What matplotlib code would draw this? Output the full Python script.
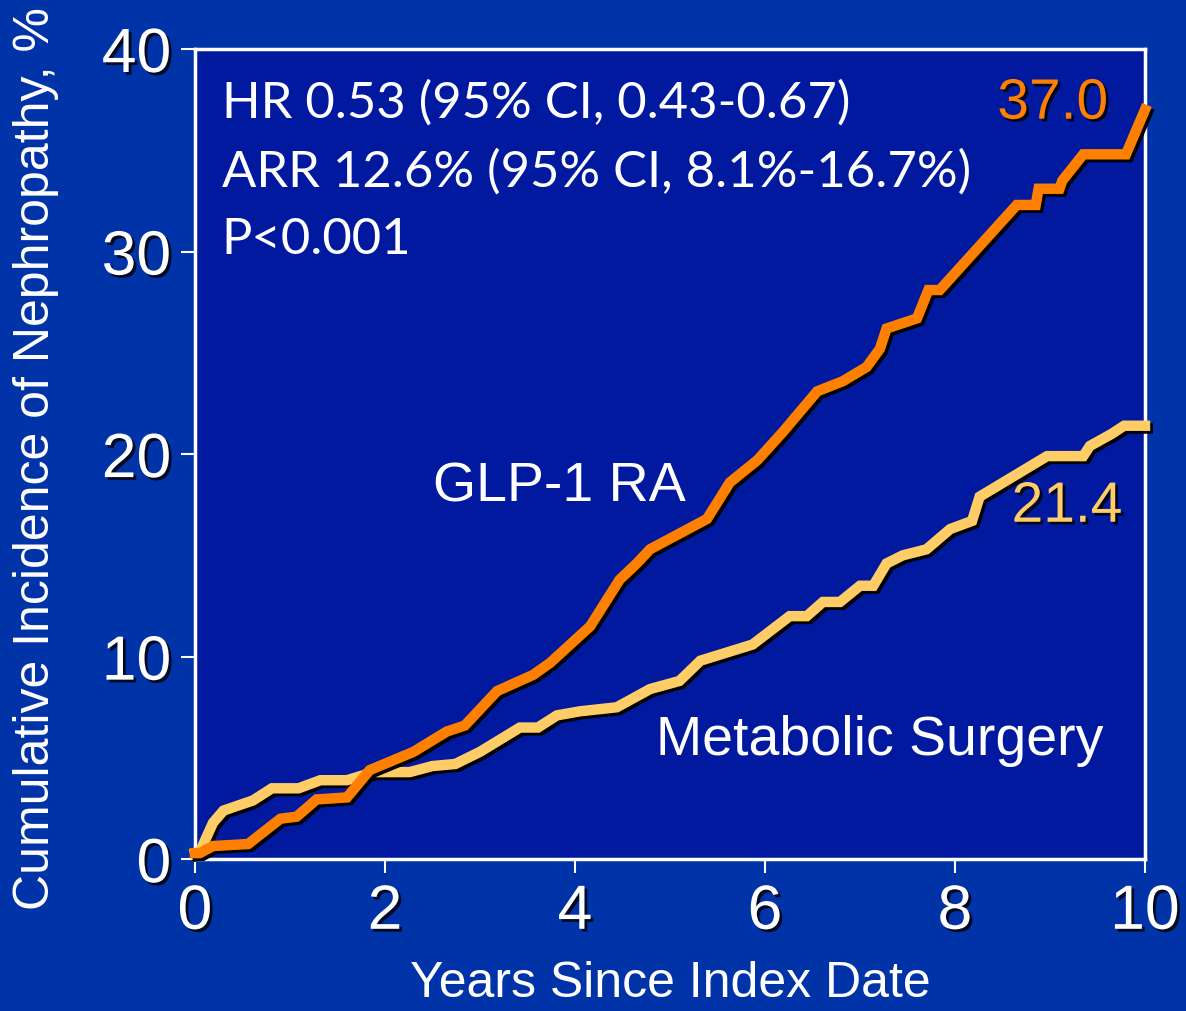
import matplotlib
matplotlib.use("Agg")
import matplotlib.pyplot as plt
import matplotlib.patheffects as pe

# ── data ────────────────────────────────────────────────────────────────────
glp_t = [0.0, 0.05, 0.19, 0.56, 0.9, 1.07, 1.28, 1.6, 1.84, 2.3, 2.65, 2.84,
         3.18, 3.56, 3.74, 4.16, 4.47, 4.65, 4.79, 5.39, 5.63, 5.92, 6.19,
         6.55, 6.82, 7.07, 7.21, 7.28, 7.6, 7.72, 7.84, 8.65, 8.85, 8.88,
         9.1, 9.13, 9.35, 9.8, 10.0]
glp_v = [0.3, 0.3, 0.65, 0.75, 2.0, 2.1, 2.95, 3.05, 4.4, 5.3, 6.3, 6.6,
         8.3, 9.1, 9.7, 11.5, 13.8, 14.6, 15.3, 16.8, 18.6, 19.7, 21.1,
         23.1, 23.6, 24.3, 25.2, 26.2, 26.7, 28.1, 28.1, 32.3, 32.3, 33.1,
         33.1, 33.5, 34.8, 34.8, 37.0]

ms_t = [0.0, 0.05, 0.19, 0.3, 0.61, 0.81, 1.09, 1.32, 1.6, 1.88, 2.26, 2.5,
        2.74, 3.0, 3.42, 3.61, 3.81, 4.05, 4.44, 4.79, 5.1, 5.32, 5.87,
        6.26, 6.44, 6.61, 6.79, 7.0, 7.14, 7.28, 7.45, 7.7, 7.95, 8.18,
        8.26, 8.97, 9.35, 9.42, 9.65, 9.78, 10.0]
ms_v = [0.3, 0.35, 1.8, 2.4, 2.9, 3.5, 3.5, 3.9, 3.9, 4.3, 4.3, 4.6,
        4.7, 5.3, 6.5, 6.5, 7.1, 7.3, 7.5, 8.4, 8.8, 9.8, 10.6,
        12.0, 12.0, 12.7, 12.7, 13.5, 13.5, 14.6, 15.0, 15.3, 16.3, 16.7,
        17.9, 19.9, 19.9, 20.4, 21.0, 21.4, 21.4]

stats_lines = ["HR 0.53 (95% CI, 0.43-0.67)",
               "ARR 12.6% (95% CI, 8.1%-16.7%)",
               "P<0.001"]
x_ticks = [0, 2, 4, 6, 8, 10]
y_ticks = [0, 10, 20, 30, 40]

OUTER = "#0033A8"
INNER = "#00199E"
ORANGE = "#FF8000"
YELLOW = "#FFCC66"

fig = plt.figure(figsize=(11.86, 10.12), dpi=100)
fig.patch.set_facecolor(OUTER)
ax = fig.add_axes([0.1644, 0.150, 0.801, 0.8006])
ax.set_facecolor(INNER)

shadow = [pe.SimpleLineShadow(offset=(2, -2), shadow_color="black", alpha=1.0),
          pe.Normal()]
ax.plot(ms_t, ms_v, color=YELLOW, lw=7.5, solid_joinstyle="miter",
        path_effects=shadow, zorder=3, clip_on=False)
ax.plot(glp_t, glp_v, color=ORANGE, lw=7.5, solid_joinstyle="miter",
        path_effects=shadow, zorder=4, clip_on=False)

ax.set_xlim(0, 10)
ax.set_ylim(0, 40)
ax.set_xticks(x_ticks)
ax.set_yticks(y_ticks)

for s in ax.spines.values():
    s.set_color("white")
    s.set_linewidth(2.5)

txt_shadow = [pe.withSimplePatchShadow(offset=(2, -2), shadow_rgbFace="black",
                                       alpha=0.8)]
ax.tick_params(colors="white", length=10, width=1.5, labelsize=45, pad=7)
for lab in ax.get_xticklabels() + ax.get_yticklabels():
    lab.set_fontfamily("Liberation Sans")
    lab.set_color("white")
    lab.set_path_effects(txt_shadow)

ax.set_xlabel("Years Since Index Date", fontsize=36, color="white",
              fontfamily="Liberation Sans", labelpad=13)
fig.text(0.030, 0.547, "Cumulative Incidence of Nephropathy, %", rotation=90,
         ha="center", va="center", fontsize=36, color="white",
         fontfamily=["Liberation Sans Narrow", "Liberation Sans"])

for i, line in enumerate(stats_lines):
    ax.text(0.28, 37.35 - i * 3.37, line, fontsize=36.5, color="white",
            fontfamily="Lato", va="center", ha="left")

ax.text(3.84, 18.4, "GLP-1 RA", fontsize=40, color="white",
        fontfamily="Liberation Sans", ha="center", va="center")
ax.text(7.21, 5.9, "Metabolic Surgery", fontsize=40, color="white",
        fontfamily="Liberation Sans", ha="center", va="center")
ax.text(9.03, 37.3, f"{glp_v[-1]:.1f}", fontsize=41, color=ORANGE,
        fontfamily="Liberation Sans", ha="center", va="center",
        path_effects=txt_shadow)
ax.text(9.18, 17.4, f"{ms_v[-1]:.1f}", fontsize=41, color=YELLOW,
        fontfamily="Liberation Sans", ha="center", va="center",
        path_effects=txt_shadow)

plt.savefig("out.png", dpi=100, facecolor=fig.get_facecolor())
